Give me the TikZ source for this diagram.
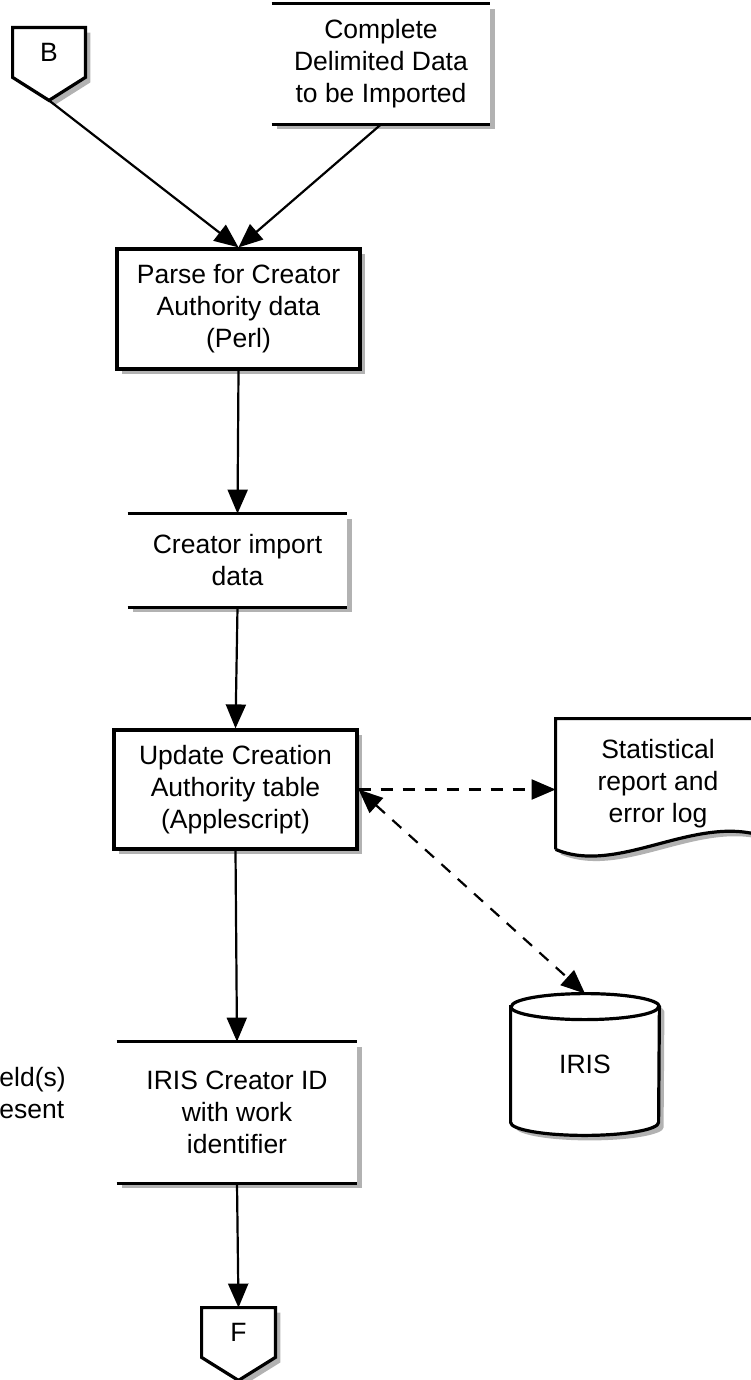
\documentclass[tikz,border=0pt]{standalone}
\usepackage{fontspec}
\setmainfont{Liberation Sans}
\usetikzlibrary{shapes}
\usetikzlibrary{arrows.meta}
\usetikzlibrary{shadows}
\usetikzlibrary{backgrounds}

\begin{document}
\begin{tikzpicture}[x=0.5pt,y=-0.5pt,font=\fontsize{13.25}{16}\selectfont,
						every node/.style={align=center,inner sep=0pt},
						shadowed/.style={drop shadow={shadow xshift=2.5pt,shadow yshift=-2.5pt,opacity=0.3,fill=black}},
						proc/.style={rectangle,draw,line width=1.6pt,fill=white,shadowed},
						datab/.style={rectangle,fill=white,shadowed},
						conn/.style={rectangle,minimum width=36pt,minimum height=24.5pt},
						rim/.style={line width=1.6pt},
						flow/.style={-{Triangle[length=12pt,width=10pt]},line width=1.1pt},
						dflow/.style={{Triangle[length=12pt,width=10pt]}-{Triangle[length=12pt,width=10pt]},line width=1.1pt,dash pattern=on 6pt off 5pt}
						]
						\useasboundingbox (0,0) rectangle (750,1380);
						% main column
						\node[conn] (b) at (49,52.5) {B};
						\node[datab,minimum width=109pt,minimum height=60pt] (cdata) at (381,64) {Complete\\Delimited Data\\to be Imported};
						\node[proc,minimum width=121.5pt,minimum height=60pt] (parse) at (238.5,309) {Parse for Creator\\Authority data\\(Perl)};
						\node[datab,minimum width=109.5pt,minimum height=46.5pt] (cimp) at (237.5,560.5) {Creator import\\data};
						\node[proc,minimum width=121.5pt,minimum height=59.5pt] (upd) at (235.5,789.5) {Update Creation\\Authority table\\(Applescript)};
						\node[datab,minimum width=120pt,minimum height=70.5pt] (cid) at (237,1112.5) {IRIS Creator ID\\with work\\identifier};
						\node[conn,minimum width=36.5pt] (f) at (238.5,1332.5) {F};
						% right side
						\node[minimum width=102pt,minimum height=65pt] (stat) at (658,784) {Statistical\\report and\\error log};
						\node[minimum width=74pt,minimum height=57.5pt] (iris) at (585,1064.5) {IRIS};
						\node[anchor=west,align=left] (miss) at (-1,1093) {eld(s)\\esent};
						\coordinate (btip) at ([yshift=-11.5pt]b.south);
						\coordinate (irtop) at ([yshift=6.5pt]iris.north);
						\begin{pgfonlayer}{background}
							\draw[rim,fill=white,shadowed] (b.north west) -- (b.north east) -- (b.south east) -- (btip) -- (b.south west) -- cycle;
							\draw[rim,fill=white,shadowed] (f.north west) -- (f.north east) -- (f.south east) -- ([yshift=-11.5pt]f.south) -- (f.south west) -- cycle;
							\draw[rim,fill=white,shadowed] (stat.south west) -- (stat.north west) -- (stat.north east) -- ([yshift=7pt]stat.south east) .. controls +(-34pt,10pt) and +(31pt,-13pt) .. (stat.south west);
							\draw[rim,fill=white,shadowed] (iris.north west) -- (iris.south west) arc[start angle=180,end angle=360,x radius=37pt,y radius=6.5pt] -- (iris.north east) arc[start angle=0,end angle=180,x radius=37pt,y radius=6.5pt] -- cycle;
							\draw[rim] (iris.north west) arc[start angle=180,end angle=360,x radius=37pt,y radius=6.5pt];
						\end{pgfonlayer}
						\foreach \n in {cdata,cimp,cid} {
							\draw[rim] (\n.north west) -- (\n.north east) (\n.south west) -- (\n.south east);
						}
						% connectors
						\draw[flow] (btip) -- (parse.north);
						\draw[flow] (cdata.south) -- (parse.north);
						\draw[flow] (parse.south) -- (cimp.north);
						\draw[flow] (cimp.south) -- (upd.north);
						\draw[flow] (upd.south) -- (cid.north);
						\draw[flow] (cid.south) -- (f.north);
						\draw[flow,dash pattern=on 6pt off 5pt] (upd.east) -- (upd.east -| stat.west);
						\draw[dflow] (upd.east) -- (irtop);
						\end{tikzpicture}
\end{document}
